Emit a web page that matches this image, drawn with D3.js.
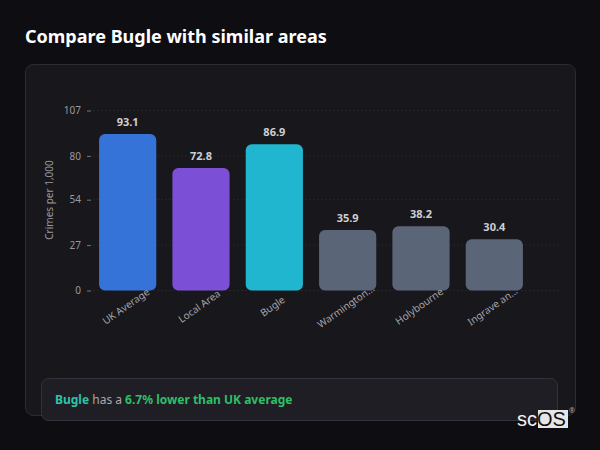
<!DOCTYPE html>
<html><head><meta charset="utf-8">
<script src="https://cdn.jsdelivr.net/npm/d3@7"></script>
<style>
html,body{margin:0;padding:0;background:#0e0d12;}
svg{display:block;font-family:"Noto Sans","Open Sans",sans-serif;}
</style></head>
<body>
<svg id="c" width="600" height="450"></svg>
<script>
const categories = ["UK Average","Local Area","Bugle","Warmington...","Holybourne","Ingrave an..."];
const values = [93.1, 72.8, 86.9, 35.9, 38.2, 30.4];
const barColors = ["#3573d8","#7b50d6","#21b6cf","#5b6578","#5b6578","#5b6578"];
const yTicks = [0, 27, 54, 80, 107];
const yMax = 107;

const svg = d3.select("#c");
svg.append("rect").attr("width",600).attr("height",450).attr("fill","#0e0d12");

svg.append("text").attr("x",25).attr("y",43)
  .attr("fill","#ffffff").attr("font-size",18).attr("font-weight",700)
  .text("Compare Bugle with similar areas");

// card
svg.append("rect").attr("x",25.5).attr("y",64.5).attr("width",550).attr("height",351)
  .attr("rx",8).attr("fill","#18171c").attr("stroke","#2d2c32");

const x = d3.scaleBand().domain(categories).range([91,531]).paddingInner(0.22).paddingOuter(0.11);
const y = d3.scaleLinear().domain([0,yMax]).range([290.5,110.5]);

// grid
svg.append("g").selectAll("line").data(yTicks).join("line")
  .attr("x1",93).attr("x2",560)
  .attr("y1",d=>y(d)).attr("y2",d=>y(d))
  .attr("stroke","#26252b").attr("stroke-dasharray","2,2");

// y axis
const yAxis = d3.axisLeft(y).tickValues(yTicks).tickSize(4).tickPadding(6);
const ga = svg.append("g").attr("transform","translate(91,0)").call(yAxis);
ga.select(".domain").remove();
ga.selectAll(".tick line").attr("stroke","#777");
ga.selectAll(".tick text").attr("fill","#9a9a9e").attr("font-size",10).attr("font-family","Noto Sans, sans-serif");

svg.append("text").attr("transform","translate(53,200) rotate(-90)")
  .attr("text-anchor","middle").attr("fill","#9a9a9e").attr("font-size",10)
  .text("Crimes per 1,000");

// bars
svg.append("g").selectAll("rect").data(values).join("rect")
  .attr("x",(d,i)=>x(categories[i]))
  .attr("y",d=>y(d))
  .attr("width",x.bandwidth())
  .attr("height",d=>y(0)-y(d))
  .attr("rx",6)
  .attr("fill",(d,i)=>barColors[i]);

// value labels
svg.append("g").selectAll("text").data(values).join("text")
  .attr("x",(d,i)=>x(categories[i])+x.bandwidth()/2)
  .attr("y",d=>y(d)-8)
  .attr("text-anchor","middle").attr("fill","#cfcfd3")
  .attr("font-size",11).attr("font-weight",700)
  .text(d=>d.toFixed(1));

// x labels
svg.append("g").selectAll("text").data(categories).join("text")
  .attr("transform",d=>`translate(${x(d)+x.bandwidth()/2-2},306) rotate(-35)`)
  .attr("text-anchor","middle").attr("dominant-baseline","central")
  .attr("fill","#a6a6ab").attr("font-size",10)
  .text(d=>d);

// callout
svg.append("rect").attr("x",41.5).attr("y",378.5).attr("width",516).attr("height",42)
  .attr("rx",7).attr("fill","#1f1e24").attr("stroke","#33323a");
const t = svg.append("text").attr("x",55).attr("y",404).attr("font-size",12);
t.append("tspan").attr("fill","#2cc4a8").attr("font-weight",700).text("Bugle");
t.append("tspan").attr("fill","#a9a9ae").text(" has a ");
t.append("tspan").attr("fill","#2ebf6a").attr("font-weight",700).text("6.7% lower than UK average");

// logo
svg.append("rect").attr("x",538).attr("y",410).attr("width",30).attr("height",18).attr("fill","#e6e6e6");
svg.append("text").attr("x",517).attr("y",426).attr("font-size",20).attr("font-family","Liberation Sans, Arial, sans-serif")
  .attr("fill","#f2f2f2").text("sc")
  .append("tspan").attr("fill","#111").text("OS");
svg.append("text").attr("x",572).attr("y",413).attr("font-size",7).attr("fill","#aaa").attr("text-anchor","middle").text("®");
</script>
</body></html>
